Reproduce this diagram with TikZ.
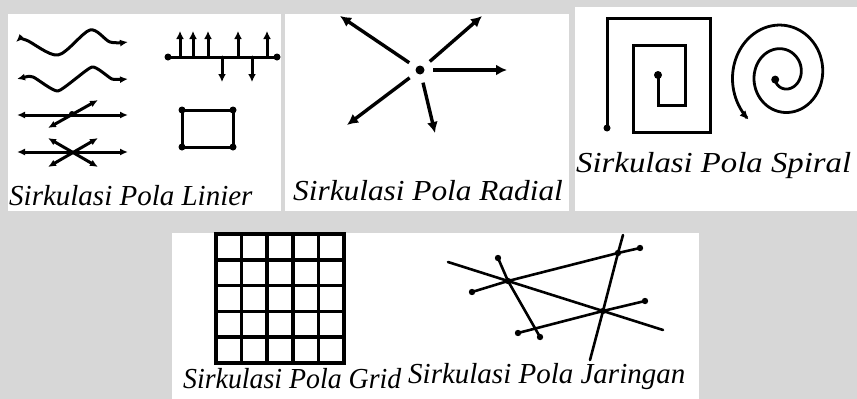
\documentclass[tikz,border=0pt]{standalone}
\usepackage{fontspec}
\setmainfont{Liberation Serif}
\usetikzlibrary{arrows.meta}

\definecolor{bgGray}{RGB}{215,215,215}

\begin{document}
\begin{tikzpicture}[x=1pt, y=-1pt,
  pat/.style={line width=3pt, line cap=round, line join=round},
  tip/.style={-{Latex[length=8pt,width=8pt]}},
  twotip/.style={{Latex[length=8pt,width=7pt]}-{Latex[length=8pt,width=7pt]}},
  captext/.style={font=\fontsize{29}{32}\selectfont\itshape, anchor=base west, inner sep=0pt}]

% ── Background + panels ──
\fill[bgGray] (0,0) rectangle (857,399);
\useasboundingbox (0,0) rectangle (857,399);
\fill[white] (8,14) rectangle (281,211);
\fill[white] (285,14) rectangle (569,211);
\fill[white] (575,7) rectangle (857,211);
\fill[white] (172,233) rectangle (699,399);

% ── Linier ──
\draw[pat,twotip] plot[smooth] coordinates {(16,42) (26,40) (58,55) (90,30) (110,42) (128,42)};
\draw[pat,twotip] plot[smooth, tension=0.3] coordinates {(17,79) (33,77) (58,91) (92,67) (112,79) (128,79)};
\draw[pat,twotip] (17,115) -- (128,115);
\draw[pat,twotip] (48,128) -- (98,100);
\fill (72,114) circle (3pt);
\draw[pat,twotip] (17,152) -- (128,152);
\draw[pat,twotip] (48,138) -- (98,167);
\draw[pat,twotip] (98,138) -- (48,167);

% comb
\draw[pat] (168,57) -- (277,57);
\fill (168,57) circle (3.5pt) (277,57) circle (3.5pt);
\foreach \x in {180,193,208,238,267} \draw[pat,tip] (\x,57) -- (\x,31);
\foreach \x in {222,252} \draw[pat,tip] (\x,57) -- (\x,82);

% loop
\draw[pat] (182,110) rectangle (233,147);
\foreach \x/\y in {182/110, 233/110, 182/147, 233/147} \fill (\x,\y) circle (3.5pt);

\node[captext] (capLin) at (9,205) {Sirkulasi Pola Linier};

% ── Radial ──
\coordinate (rc) at (420,70);
\fill (rc) circle (4.5pt);
\foreach \hx/\hy in {340/16, 482/16, 507/70, 347/125, 435/133}
  \draw[line width=3.4pt, -{Latex[length=11pt,width=11pt]}, shorten <=13pt] (rc) -- (\hx,\hy);

\node[captext, xscale=1.08] (capRad) at (293,200) {Sirkulasi Pola Radial};

% ── Spiral ──
\draw[pat, line join=miter, line cap=butt] (607,128) -- (607,18) -- (710,18) -- (710,132) -- (633,132)
  -- (633,45) -- (685,45) -- (685,105) -- (658,105) -- (658,75);
\fill (607,128) circle (3.5pt) (658,75) circle (4pt);

\coordinate (sc) at (775.2,79.6);
\fill (sc) circle (4pt);
\draw[line width=2.8pt, line cap=round, -{Latex[length=9pt,width=8pt]}] plot[domain=-150:590, samples=200, smooth]
  ({783+(18+0.06*\x)*cos(\x)}, {74.7-1.1*(18+0.06*\x)*sin(\x)});

\node[captext, xscale=1.13] (capSpi) at (576,172) {Sirkulasi Pola Spiral};

% ── Grid ──
\foreach \i in {0,...,5} {
  \draw[line width=3.5pt] (216+25.6*\i,234) -- (216+25.6*\i,363);
  \draw[line width=3.5pt] (214.3,234+25.8*\i) -- (345.7,234+25.8*\i);
}

\node[captext, xscale=0.96] (capGrd) at (183,388) {Sirkulasi Pola Grid};

% ── Jaringan ──
\coordinate (j1) at (508,281);
\coordinate (j2) at (603,311);
\coordinate (j3) at (618,253);
\draw[pat, line width=2.6pt] (448,262) -- (j1) -- (j2) -- (663,330);
\draw[pat, line width=2.6pt] (472,292) -- (j1) -- (j3) -- (640,248);
\draw[pat, line width=2.6pt] (498,258) -- (j1) -- (540,337);
\draw[pat, line width=2.6pt] (518,333) -- (j2) -- (645,301);
\draw[pat, line width=2.6pt] (623,235) -- (j3) -- (j2) -- (590,360);
\foreach \p in {(472,292), (640,248), (498,258), (540,337), (518,333), (645,301), (j1), (j2), (j3)}
  \fill \p circle (3.2pt);

\node[captext] (capJar) at (408,383) {Sirkulasi Pola Jaringan};

\end{tikzpicture}
\end{document}
